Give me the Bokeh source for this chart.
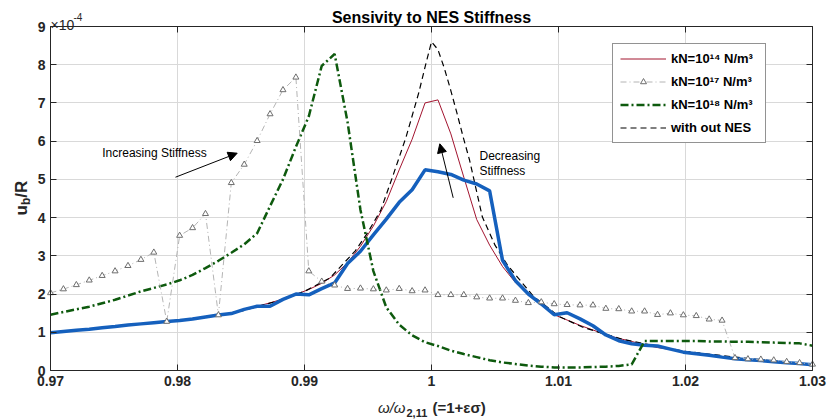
import numpy as np
from bokeh.plotting import figure
from bokeh.models import (Range1d, FixedTicker, LinearAxis, Label, Arrow, Grid,
                          NormalHead, Legend, LegendItem)
from bokeh.embed import file_html
from bokeh.resources import INLINE

# ---------------- data (response u_b/R in units of 1e-4) ----------------
freq = np.linspace(0.97, 1.03, 60)

resp_k14 = [0.99, 1.02, 1.05, 1.08, 1.12, 1.15, 1.19, 1.22, 1.25, 1.28,
            1.31, 1.35, 1.40, 1.45, 1.51, 1.59, 1.68, 1.77, 1.87, 1.99,
            2.12, 2.28, 2.50, 2.82, 3.25, 3.78, 4.42, 5.25, 6.05, 7.00,
            7.08, 6.19, 5.06, 3.95, 3.28, 2.72, 2.30, 1.98, 1.74, 1.46,
            1.32, 1.18, 1.06, 0.94, 0.84, 0.76, 0.67, 0.60, 0.55, 0.49,
            0.44, 0.40, 0.36, 0.32, 0.29, 0.26, 0.23, 0.20, 0.18, 0.15]

resp_k17 = [2.03, 2.13, 2.24, 2.36, 2.48, 2.60, 2.74, 2.90, 3.09, 1.28,
            3.53, 3.73, 4.10, 1.45, 4.91, 5.39, 6.01, 6.71, 7.34, 7.67,
            2.60, 2.33, 2.23, 2.14, 2.15, 2.13, 2.10, 2.14, 2.08, 2.10,
            1.98, 1.98, 1.98, 1.92, 1.89, 1.89, 1.83, 1.77, 1.79, 1.74,
            1.72, 1.71, 1.71, 1.62, 1.61, 1.55, 1.55, 1.46, 1.50, 1.45,
            1.43, 1.34, 1.31, 0.33, 0.30, 0.29, 0.27, 0.23, 0.20, 0.16]

resp_k18 = [1.46, 1.53, 1.60, 1.67, 1.76, 1.85, 1.96, 2.07, 2.16, 2.25,
            2.36, 2.50, 2.68, 2.87, 3.08, 3.30, 3.59, 4.30, 5.00, 5.85,
            6.65, 7.97, 8.28, 6.50, 4.20, 2.60, 1.65, 1.20, 0.92, 0.74,
            0.64, 0.52, 0.43, 0.35, 0.27, 0.21, 0.17, 0.13, 0.10, 0.08,
            0.08, 0.08, 0.09, 0.10, 0.12, 0.16, 0.77, 0.77, 0.77, 0.77,
            0.77, 0.76, 0.76, 0.75, 0.75, 0.74, 0.73, 0.72, 0.71, 0.65]

resp_blue = [0.99, 1.02, 1.05, 1.08, 1.12, 1.15, 1.19, 1.22, 1.25, 1.28,
             1.31, 1.35, 1.40, 1.45, 1.49, 1.60, 1.68, 1.68, 1.86, 2.00,
             1.98, 2.14, 2.29, 2.80, 3.12, 3.55, 3.96, 4.40, 4.73, 5.25,
             5.20, 5.13, 4.98, 4.88, 4.70, 2.88, 2.35, 2.00, 1.74, 1.46,
             1.51, 1.35, 1.17, 0.93, 0.78, 0.70, 0.66, 0.64, 0.56, 0.48,
             0.44, 0.40, 0.35, 0.31, 0.28, 0.26, 0.23, 0.20, 0.18, 0.15]

freq_noNES = [0.970, 0.975, 0.980, 0.985, 0.988, 0.990, 0.992, 0.994, 0.995,
              0.996, 0.997, 0.998, 0.999, 0.9995, 1.000, 1.0005, 1.001, 1.0015,
              1.002, 1.0025, 1.003, 1.004, 1.005, 1.006, 1.008, 1.010, 1.012,
              1.015, 1.018, 1.020, 1.025, 1.030]
resp_noNES = [0.99, 1.15, 1.30, 1.55, 1.83, 2.07, 2.42, 3.13, 3.62,
              4.19, 5.13, 6.11, 7.27, 7.95, 8.60, 8.40, 7.92, 7.35,
              6.74, 6.10, 5.50, 4.02, 3.28, 2.75, 1.95, 1.42, 1.12,
              0.82, 0.62, 0.50, 0.31, 0.15]

x_ticks = [0.97, 0.98, 0.99, 1.0, 1.01, 1.02, 1.03]
x_tick_labels = ["0.97", "0.98", "0.99", "1", "1.01", "1.02", "1.03"]
y_ticks = [0, 1, 2, 3, 4, 5, 6, 7, 8, 9]
y_tick_labels = [str(v) for v in y_ticks]

legend_labels = ["kN=10\u00b9\u2074 N/m\u00b3", "kN=10\u00b9\u2077 N/m\u00b3",
                 "kN=10\u00b9\u2078 N/m\u00b3", "with out NES"]

# ---------------- layout geometry ----------------
W, H = 830, 419
BOX_L, BOX_R, BOX_T, BOX_B = 50, 812, 26, 370          # axes box in pixels
X0, X1, Y0, Y1 = 0.97, 1.03, 0.0, 9.0
DX = (X1 - X0) / (BOX_R - BOX_L)
DY = (Y1 - Y0) / (BOX_B - BOX_T)


def sx(px):   # pixel column -> data x (for annotation placement)
    return X0 + (px - BOX_L) * DX


def sy(py):   # pixel row -> data y
    return Y0 + (BOX_B - py) * DY


FONT = "Liberation Sans"
AX = "#262626"

p = figure(width=W, height=H, output_backend="svg", toolbar_location=None,
           title=None, x_axis_location=None, y_axis_location=None,
           x_range=Range1d(sx(0), sx(W)), y_range=Range1d(sy(H), sy(0)),
           min_border=0)
p.center = []
p.background_fill_color = "white"
p.border_fill_color = "white"
p.outline_line_color = None


def mk_axis(ticks, labels, loc, bounds, show_labels):
    ax = LinearAxis(ticker=FixedTicker(ticks=ticks), fixed_location=loc,
                    bounds=bounds, major_tick_in=6, major_tick_out=0,
                    minor_tick_line_color=None, axis_line_color=AX,
                    major_tick_line_color=AX, axis_line_width=1)
    if show_labels:
        ax.major_label_overrides = dict(zip(ticks, labels))
        ax.major_label_text_font = FONT
        ax.major_label_text_font_size = "14px"
        ax.major_label_text_font_style = "bold"
        ax.major_label_text_color = AX
        ax.major_label_standoff = 5
    else:
        ax.major_label_text_color = None
        ax.major_label_text_font_size = "1px"
    return ax


# grid
has_cross = "cross_bounds" in Grid.properties()
if has_cross:
    p.add_layout(Grid(dimension=0, ticker=FixedTicker(ticks=x_ticks),
                      bounds=(X0, X1), cross_bounds=(Y0, Y1),
                      grid_line_color="#d9d9d9", grid_line_width=1))
    p.add_layout(Grid(dimension=1, ticker=FixedTicker(ticks=y_ticks),
                      bounds=(Y0, Y1), cross_bounds=(X0, X1),
                      grid_line_color="#d9d9d9", grid_line_width=1))
else:
    p.segment(x0=x_ticks, y0=[Y0] * len(x_ticks), x1=x_ticks,
              y1=[Y1] * len(x_ticks), line_color="#d9d9d9", line_width=1)
    p.segment(x0=[X0] * len(y_ticks), y0=y_ticks, x1=[X1] * len(y_ticks),
              y1=y_ticks, line_color="#d9d9d9", line_width=1)

p.add_layout(mk_axis(x_ticks, x_tick_labels, Y0, (X0, X1), True), "below")
p.add_layout(mk_axis(y_ticks, y_tick_labels, X0, (Y0, Y1), True), "left")
p.add_layout(mk_axis(x_ticks, x_tick_labels, Y1, (X0, X1), False), "above")
p.add_layout(mk_axis(y_ticks, y_tick_labels, X1, (Y0, Y1), False), "right")

# ---------------- series ----------------
r_k14 = p.line(freq, resp_k14, line_color="#a2142f", line_width=1)
r_none = p.line(freq_noNES, resp_noNES, line_color="black", line_width=1.2,
                line_dash="6 4")
r_blue = p.line(freq, resp_blue, line_color="#1560bd", line_width=3.5)
r_k18 = p.line(freq, resp_k18, line_color="#0e5a0e", line_width=2.5,
               line_dash="8 3 2 3")
r_k17_l = p.line(freq, resp_k17, line_color="#b4b4b4", line_width=1,
                 line_dash="6 3 1 3")
r_k17_m = p.scatter(freq, resp_k17, marker="triangle", size=6,
                    line_color="#6e6e6e", fill_color="white", line_width=1)

legend = Legend(items=[
    LegendItem(label=legend_labels[0], renderers=[r_k14]),
    LegendItem(label=legend_labels[1], renderers=[r_k17_l, r_k17_m]),
    LegendItem(label=legend_labels[2], renderers=[r_k18]),
    LegendItem(label=legend_labels[3], renderers=[r_none]),
], location=(612, H - 143))
legend.border_line_color = AX
legend.border_line_width = 1
legend.background_fill_color = "white"
legend.background_fill_alpha = 1
legend.label_text_font = FONT
legend.label_text_font_style = "bold"
legend.label_text_font_size = "13px"
legend.label_text_color = "black"
legend.glyph_width = 46
legend.glyph_height = 15
legend.label_height = 15
legend.label_width = 87
legend.label_standoff = 5
legend.spacing = 8
legend.padding = 7
legend.margin = 0
p.add_layout(legend)


# ---------------- texts ----------------
def lab(px, py, text, size, style="normal", align="left", baseline="middle",
        angle=0.0, color="black"):
    p.add_layout(Label(x=sx(px), y=sy(py), text=text, text_font=FONT,
                       text_font_size=size, text_font_style=style,
                       text_align=align, text_baseline=baseline,
                       angle=angle, text_color=color))


lab(431, 17, "Sensivity to NES Stiffness", "16px", "bold", "center")
lab(50, 24, "\u00d710", "14px", "normal", "left", "alphabetic", color=AX)
lab(73, 16.5, "-4", "10px", "normal", "left", "alphabetic", color=AX)

# x axis label
lab(405, 406.5, "\u03c9/\u03c9", "15px", "italic", "right", "alphabetic", color=AX)
lab(406, 412, "2,11", "11px", "bold", "left", "alphabetic", color=AX)
lab(432, 406.5, "(=1+\u03b5\u03c3)", "15px", "bold", "left", "alphabetic", color=AX)

# y axis label (rotated, reads bottom to top)
lab(21, 215, "u", "17px", "bold", "left", "alphabetic", np.pi / 2, AX)
lab(25, 204.6, "b", "12px", "bold", "left", "alphabetic", np.pi / 2, AX)
lab(21, 197.3, "/R", "17px", "bold", "left", "alphabetic", np.pi / 2, AX)

# annotations
lab(101.7, 152, "Increasing Stiffness", "12px")
lab(479, 155, "Decreasing", "12px")
lab(479, 170.3, "Stiffness", "12px")

head = dict(size=9, fill_color="black", line_color="black")
p.add_layout(Arrow(x_start=sx(175), y_start=sy(176.7), x_end=sx(236.7),
                   y_end=sy(152.7), line_width=1, line_color="black",
                   end=NormalHead(**head)))
p.add_layout(Arrow(x_start=sx(452.7), y_start=sy(197.3), x_end=sx(439.3),
                   y_end=sy(143.3), line_width=1, line_color="black",
                   end=NormalHead(**head)))

open("out.html", "w").write(file_html(p, INLINE))
